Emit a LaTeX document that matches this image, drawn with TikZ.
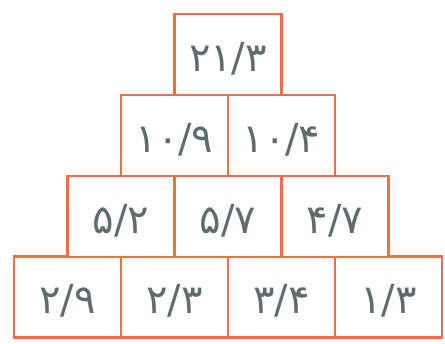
\documentclass[tikz,border=0pt]{standalone}
\usepackage{fontspec}
\newfontfamily\pf{DejaVu Sans}
\definecolor{bd}{RGB}{238,112,72}
\definecolor{tx}{RGB}{95,108,108}
\begin{document}
\begin{tikzpicture}[x=1pt,y=-1pt,
  cell/.style={draw=bd,line width=2.8pt,fill=white,minimum width=107pt,minimum height=81pt,
    inner sep=0pt,text height=34pt,text depth=0pt,
    font=\pf\fontsize{40}{40}\selectfont,text=tx,anchor=center}]
\useasboundingbox (0,0) rectangle (445,344);
% row 4
\node[cell] (d1) at (67.5,297) {۲/۹};
\node[cell] (d2) at (174.5,297) {۲/۳};
\node[cell] (d3) at (281.5,297) {۳/۴};
\node[cell] (d4) at (388.5,297) {۱/۳};
% row 3
\node[cell] (c1) at (121,216.5) {۵/۲};
\node[cell] (c2) at (228,216.5) {۵/۷};
\node[cell] (c3) at (335,216.5) {۴/۷};
% row 2
\node[cell] (b1) at (174.5,135.5) {۱۰/۹};
\node[cell] (b2) at (281.5,135.5) {۱۰/۴};
% row 1
\node[cell] (a1) at (228,54.5) {۲۱/۳};
\end{tikzpicture}
\end{document}
